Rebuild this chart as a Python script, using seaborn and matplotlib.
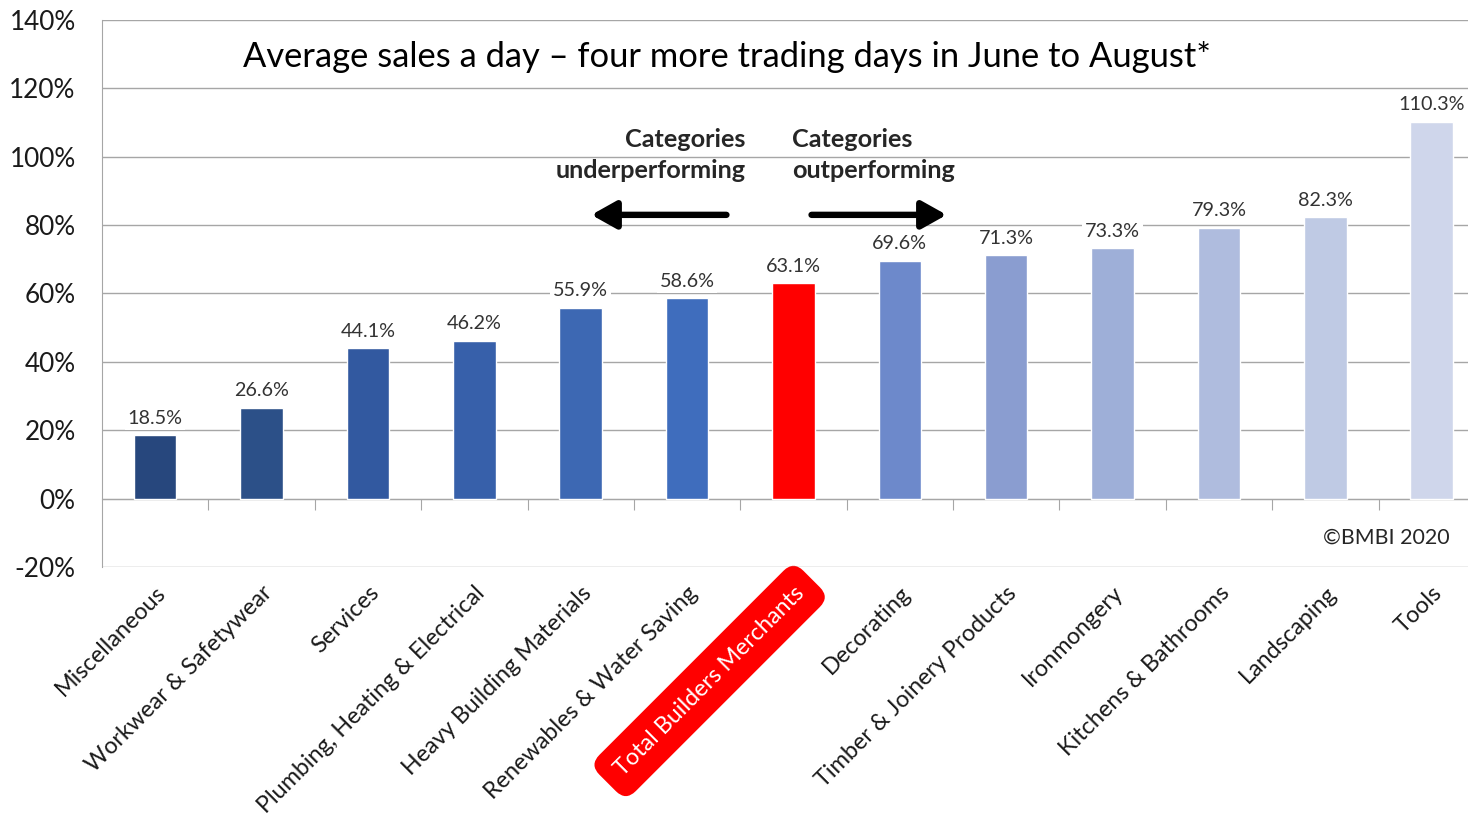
import matplotlib
matplotlib.use("Agg")
import matplotlib.pyplot as plt
import seaborn as sns
import pandas as pd
import numpy as np

# ==========================================
# DATA
# ==========================================
categories = [
    "Miscellaneous", "Workwear & Safetywear", "Services",
    "Plumbing, Heating & Electrical", "Heavy Building Materials",
    "Renewables & Water Saving", "Total Builders Merchants", "Decorating",
    "Timber & Joinery Products", "Ironmongery", "Kitchens & Bathrooms",
    "Landscaping", "Tools",
]
values = [18.5, 26.6, 44.1, 46.2, 55.9, 58.6, 63.1, 69.6, 71.3, 73.3, 79.3, 82.3, 110.3]
bar_colors = [
    "#27477D", "#2C5088", "#3259A0", "#3760AA", "#3D68B3", "#3F6DBD",
    "#FF0000", "#6D89CB", "#8A9DD0", "#9EAFD8", "#AFBCDE", "#BFCAE4", "#CFD6EB",
]
y_ticks = [-20, 0, 20, 40, 60, 80, 100, 120, 140]
highlight = "Total Builders Merchants"

df = pd.DataFrame({"category": categories, "value": values})

# ==========================================
# STYLE
# ==========================================
sns.set_style("white")
plt.rcParams["font.family"] = ["Lato", "DejaVu Sans"]
GRID = "#A6A6A6"

fig = plt.figure(figsize=(14.68, 8.19), dpi=100)
ax = fig.add_axes([0.0695, 0.3077, 0.942, 0.6679])

sns.barplot(data=df, x="category", y="value", hue="category",
            palette=dict(zip(categories, bar_colors)), legend=False,
            width=0.4, saturation=1, ax=ax, zorder=3)

ax.set_ylim(-20, 140)
ax.set_xlim(-0.5, len(categories) - 0.5)
ax.set_yticks(y_ticks)
ax.set_yticklabels([f"{t}%" for t in y_ticks], fontsize=18.8, color="#1a1a1a")
ax.yaxis.grid(True, color=GRID, lw=1, zorder=0)
ax.set_axisbelow(True)
ax.tick_params(axis="y", length=10, color=GRID, pad=9)

for side in ["top", "right", "bottom"]:
    ax.spines[side].set_visible(False)
ax.spines["left"].set_color(GRID)

ax.set_xlabel("")
ax.set_ylabel("")
ax.tick_params(axis="x", length=0, pad=11)
ax.set_xticks(range(len(categories)))
ax.set_xticklabels(categories, rotation=45, ha="right", rotation_mode="anchor",
                   fontsize=16.8, color="#1a1a1a")
for lbl in ax.get_xticklabels():
    if lbl.get_text() == highlight:
        lbl.set_color("white")
        lbl.set_bbox(dict(boxstyle="round,pad=0.65,rounding_size=0.6",
                          fc="#FF0000", ec="none"))

# category separator ticks on the 0% line
sec = ax.secondary_xaxis(20 / 160)
sec.set_xticks(np.arange(0.5, len(categories) - 0.5, 1))
sec.set_xticklabels([])
sec.tick_params(length=8, color=GRID, direction="out")
sec.spines["bottom"].set_color(GRID)

# data labels
for i, v in enumerate(values):
    ax.annotate(f"{v}%", (i, v), xytext=(0, 6), textcoords="offset points",
                ha="center", va="bottom", fontsize=14.2, color="#333333",
                bbox=dict(fc="white", ec="none", pad=2), zorder=4)

# title and notes
fig.text(0.495, 0.93, "Average sales a day \u2013 four more trading days in June to August*",
         ha="center", va="center", fontsize=24.8, color="black")

ax.text(5.55, 108.5, "Categories\nunderperforming", ha="right", va="top",
        fontsize=18.2, fontweight="bold", linespacing=1.45)
ax.text(5.99, 108.5, "Categories\noutperforming", ha="left", va="top",
        fontsize=18.2, fontweight="bold", linespacing=1.45)

arrow = dict(arrowstyle="-|>,head_length=0.75,head_width=0.42", lw=4.6,
             color="black", shrinkA=0, shrinkB=0, mutation_scale=20)
ax.annotate("", xy=(4.10, 83), xytext=(5.37, 83), arrowprops=arrow)
ax.annotate("", xy=(7.44, 83), xytext=(6.17, 83), arrowprops=arrow)

ax.text(12.17, -11.5, "\u00a9BMBI 2020", ha="right", va="center", fontsize=15.4)

fig.savefig("out.png", dpi=100)
